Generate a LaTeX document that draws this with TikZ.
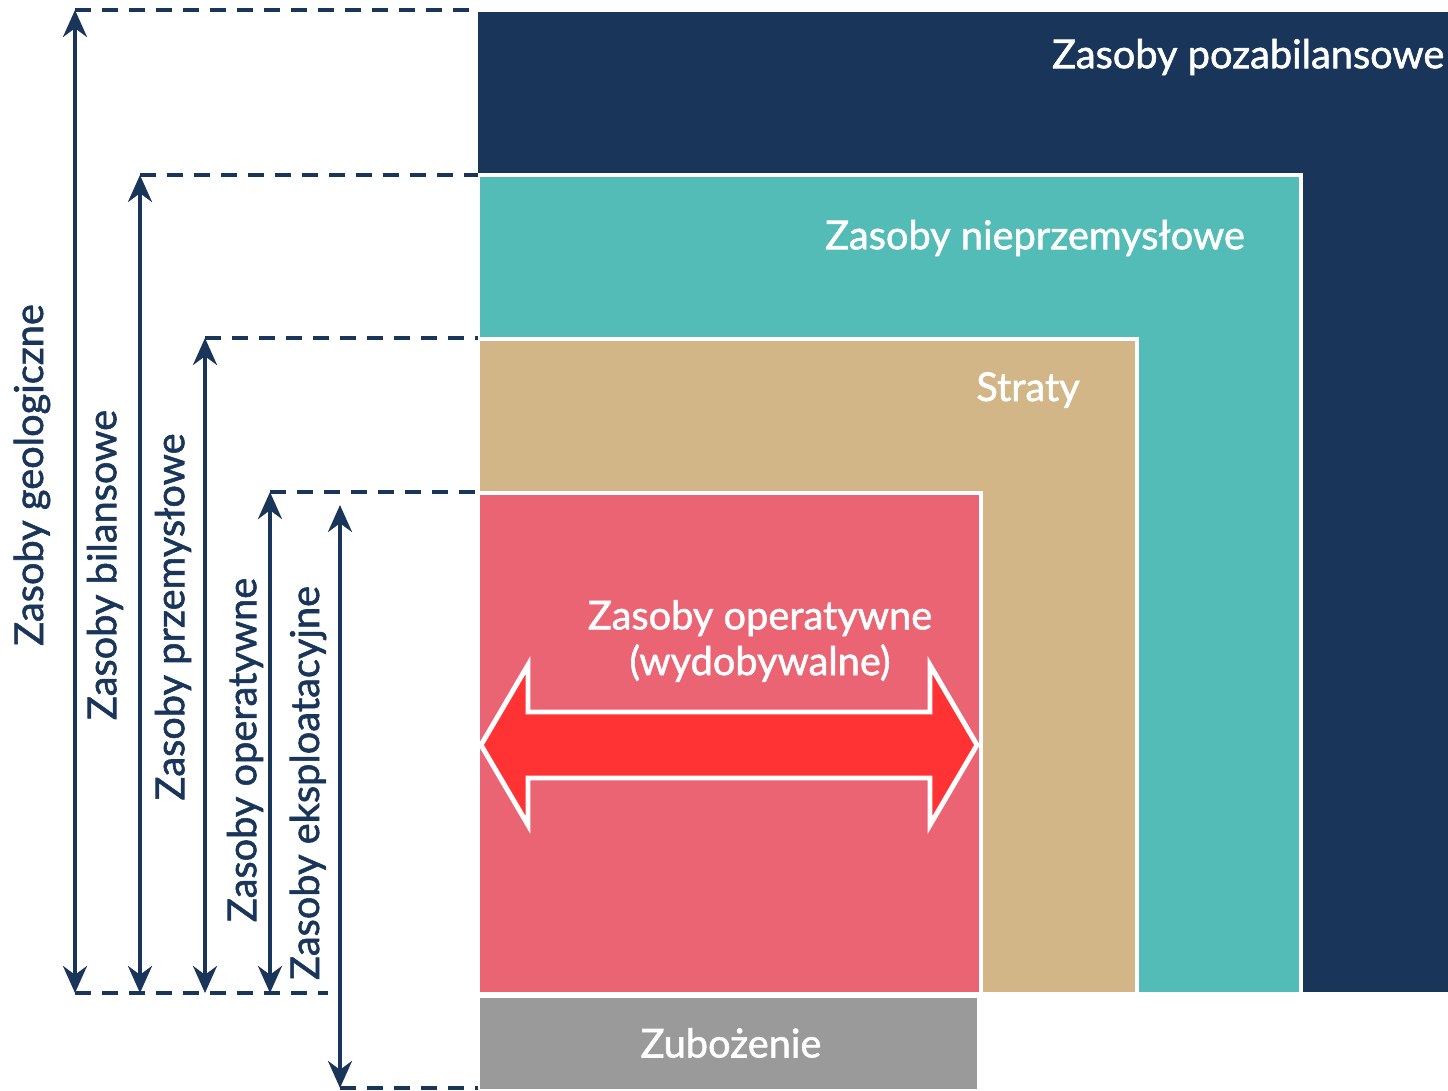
\documentclass[tikz,border=0pt]{standalone}
\usepackage{fontspec}
\setmainfont{Lato}[BoldFont=Lato, BoldFeatures={FakeBold=1.4}]
\usetikzlibrary{arrows.meta}
\definecolor{navy}{HTML}{1A355A}
\definecolor{tealbox}{HTML}{53BCB6}
\definecolor{tanbox}{HTML}{D2B688}
\definecolor{redbox}{HTML}{EB6473}
\definecolor{greybox}{HTML}{9A9A9A}
\definecolor{arrowred}{HTML}{FF3333}

\begin{document}
\begin{tikzpicture}[x=0.01cm, y=-0.01cm,
    layer/.style={fill=#1, draw=white, line width=1.2pt},
    inner/.style={text=white, font=\fontsize{11.3}{13}\selectfont\bfseries, inner sep=0pt},
    side/.style={text=navy, font=\fontsize{11.3}{13}\selectfont\bfseries, rotate=90, inner sep=0pt},
    guide/.style={draw=navy, line width=1.25pt, dash pattern=on 0.16cm off 0.11cm},
    span/.style={draw=navy, line width=1pt, {Stealth[length=0.27cm, width=0.24cm]}-{Stealth[length=0.27cm, width=0.24cm]}}]
    \useasboundingbox (0,0) rectangle (1448,1091);

    % nested blocks
    \fill[navy] (478,12) rectangle (1448,992);
    \draw[layer=tealbox] (478,175) rectangle (1301,994);
    \draw[layer=tanbox] (478,339) rectangle (1137,994);
    \draw[layer=redbox] (478,493) rectangle (981,994);
    \draw[layer=greybox] (478,996) rectangle (979,1091);

    % double arrow
    \draw[fill=arrowred, draw=white, line width=1.4pt] (481,745) -- (528,665) -- (528,712) -- (930,712)
        -- (930,665) -- (977,745) -- (930,825) -- (930,778) -- (528,778) -- (528,825) -- cycle;

    \node[inner, anchor=east] (poza) at (1445,57) {Zasoby pozabilansowe};
    \node[inner] (niep) at (1035,238) {Zasoby nieprzemysłowe};
    \node[inner] (straty) at (1028,390) {Straty};
    \node[inner, align=center] (oper) at (760,641) {Zasoby operatywne\\(wydobywalne)};
    \node[inner] (zub) at (731,1043) {Zubożenie};

    % guide lines
    \coordinate (geoT) at (75,10);
    \coordinate (bilT) at (140,175);
    \coordinate (przT) at (205,338);
    \coordinate (opT) at (270,492);
    \coordinate (geoB) at (75,993);
    \coordinate (bilB) at (140,993);
    \coordinate (przB) at (205,993);
    \coordinate (opB) at (270,993);
    \coordinate (eksT) at (340,505);
    \coordinate (eksB) at (340,1088);

    \draw[guide] (geoT) -- (478,10);
    \draw[guide] (bilT) -- (478,175);
    \draw[guide] (przT) -- (478,338);
    \draw[guide] (opT) -- (478,492);
    \draw[guide] (geoB) -- (328,993);
    \draw[guide] (eksB) -- (478,1088);

    \draw[span] (geoB) -- (geoT);
    \draw[span] (bilB) -- (bilT);
    \draw[span] (przB) -- (przT);
    \draw[span] (opB) -- (opT);
    \draw[span] (eksB) -- (eksT);

    \node[side] (geo) at (32,475) {Zasoby geologiczne};
    \node[side] (bil) at (105,565) {Zasoby bilansowe};
    \node[side] (prz) at (173,617) {Zasoby przemysłowe};
    \node[side] (op) at (245,750) {Zasoby operatywne};
    \node[side] (eks) at (308,783) {Zasoby eksploatacyjne};
\end{tikzpicture}
\end{document}
